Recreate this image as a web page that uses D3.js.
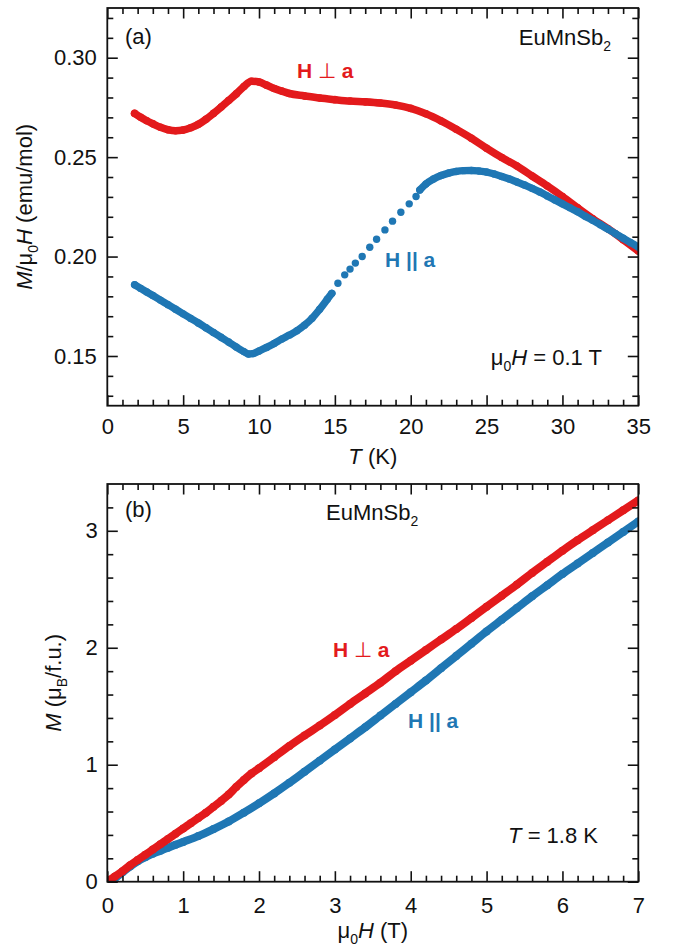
<!DOCTYPE html>
<html>
<head>
<meta charset="utf-8">
<script src="https://cdn.jsdelivr.net/npm/d3@7"></script>
<style>
  body { margin: 0; background: #fff; }
  svg text { font-family: "Liberation Sans", Arial, Helvetica, sans-serif; }
</style>
</head>
<body>
<svg id="chart" width="673" height="948"></svg>
<script>
// ---------- (a) susceptibility vs temperature, mu0H = 0.1 T ----------
const tempPerp = [1.8,2.2,2.6,3.0,3.5,4.0,4.5,5.0,5.5,6.0,6.5,7.0,7.5,8.0,8.5,9.0,9.5,10.0,10.5,11.0,11.5,12.0,13.0,14.0,15.0,16.0,17.0,18.0,19.0,20.0,21.0,22.0,23.0,24.0,25.0,26.0,27.0,28.0,29.0,30.0,31.0,32.0,33.0,34.0,35.0];
const chiPerp  = [0.2720,0.2700,0.2683,0.2668,0.2650,0.2638,0.2633,0.2636,0.2648,0.2665,0.2690,0.2720,0.2752,0.2785,0.2818,0.2855,0.2882,0.2878,0.2862,0.2845,0.2832,0.2820,0.2808,0.2797,0.2789,0.2782,0.2778,0.2772,0.2762,0.2745,0.2718,0.2682,0.2640,0.2595,0.2545,0.2498,0.2455,0.2405,0.2355,0.2302,0.2245,0.2190,0.2140,0.2085,0.2028];

// H || a : low-T branch, sparse sweep through the transition, high-T branch
const tempParLow = [1.8,2.2,2.6,3.0,3.5,4.0,4.5,5.0,5.5,6.0,6.5,7.0,7.5,8.0,8.5,9.0,9.3,9.6,10.0,10.5,11.0,11.5,12.0,12.5,13.0,13.5,14.0,14.5,14.8];
const chiParLow  = [0.1858,0.1840,0.1822,0.1804,0.1781,0.1758,0.1735,0.1712,0.1689,0.1666,0.1642,0.1618,0.1594,0.1570,0.1545,0.1522,0.1510,0.1512,0.1525,0.1543,0.1563,0.1585,0.1605,0.1627,0.1655,0.1690,0.1735,0.1785,0.1815];
const tempParMid = [15.2,15.65,16.0,16.35,16.8,17.3,17.75,18.3,18.8,19.35,19.9,20.35];
const chiParMid  = [0.1866,0.1908,0.1937,0.1967,0.2000,0.2047,0.2087,0.2134,0.2178,0.2223,0.2265,0.2302];
const tempParHigh = [20.6,21.0,21.5,22.0,22.5,23.0,23.5,24.0,24.5,25.0,25.5,26.0,26.5,27.0,27.5,28.0,28.5,29.0,29.5,30.0,30.5,31.0,31.5,32.0,32.5,33.0,33.5,34.0,34.5,35.0];
const chiParHigh  = [0.2335,0.2365,0.2390,0.2408,0.2420,0.2428,0.2432,0.2433,0.2430,0.2425,0.2415,0.2403,0.2390,0.2375,0.2360,0.2343,0.2325,0.2305,0.2285,0.2265,0.2245,0.2225,0.2203,0.2182,0.2160,0.2138,0.2115,0.2092,0.2070,0.2048];

// ---------- (b) magnetization vs field, T = 1.8 K ----------
const fieldPerp = [0,0.1,0.2,0.3,0.4,0.5,0.6,0.7,0.8,0.9,1.0,1.1,1.2,1.3,1.4,1.5,1.6,1.7,1.8,1.9,2.0,2.2,2.4,2.6,2.8,3.0,3.2,3.4,3.6,3.8,4.0,4.2,4.4,4.6,4.8,5.0,5.2,5.4,5.6,5.8,6.0,6.2,6.4,6.6,6.8,7.0];
const momPerp   = [0.0,0.045,0.09,0.14,0.185,0.23,0.275,0.32,0.365,0.41,0.455,0.50,0.545,0.59,0.64,0.69,0.745,0.81,0.87,0.925,0.97,1.065,1.16,1.25,1.335,1.425,1.52,1.61,1.70,1.80,1.89,1.98,2.07,2.16,2.255,2.35,2.445,2.54,2.64,2.735,2.83,2.92,3.005,3.09,3.175,3.26];
const fieldPar = [0,0.1,0.2,0.3,0.4,0.5,0.6,0.7,0.8,0.9,1.0,1.2,1.4,1.6,1.8,2.0,2.2,2.4,2.6,2.8,3.0,3.2,3.4,3.6,3.8,4.0,4.2,4.4,4.6,4.8,5.0,5.2,5.4,5.6,5.8,6.0,6.2,6.4,6.6,6.8,7.0];
const momPar   = [0.0,0.03,0.08,0.13,0.175,0.21,0.24,0.265,0.29,0.315,0.34,0.39,0.45,0.515,0.59,0.67,0.755,0.845,0.94,1.035,1.13,1.225,1.32,1.42,1.52,1.62,1.72,1.825,1.93,2.035,2.14,2.24,2.34,2.44,2.535,2.63,2.72,2.81,2.90,2.99,3.08];

// ---------- tick values ----------
const tempMajor = [0,5,10,15,20,25,30,35];
const tempMinor = [1,2,3,4,6,7,8,9,11,12,13,14,16,17,18,19,21,22,23,24,26,27,28,29,31,32,33,34];
const chiMajor  = [0.15,0.20,0.25,0.30];
const chiMinor  = [0.13,0.14,0.16,0.17,0.18,0.19,0.21,0.22,0.23,0.24,0.26,0.27,0.28,0.29,0.31,0.32];
const fieldMajor = [0,1,2,3,4,5,6,7];
const fieldMinor = [0.2,0.4,0.6,0.8,1.2,1.4,1.6,1.8,2.2,2.4,2.6,2.8,3.2,3.4,3.6,3.8,4.2,4.4,4.6,4.8,5.2,5.4,5.6,5.8,6.2,6.4,6.6,6.8];
const momMajor  = [0,1,2,3];
const momMinor  = [0.2,0.4,0.6,0.8,1.2,1.4,1.6,1.8,2.2,2.4,2.6,2.8,3.2];

const RED = "#e31a1c";
const BLUE = "#1f77b4";
const FONT = 22;

const svg = d3.select("#chart");
const plotLeft = 107.3, plotW = 531, plotH = 397.7;

function zip(xs, ys) { return xs.map((v, i) => ({ x: v, y: ys[i] })); }

// Inward ticks on all four sides, major longer than minor, boxed frame.
function drawFrame(g, x, y, opt) {
  const major = 10.5, minor = 6;
  const style = sel => {
    sel.select(".domain").remove();
    sel.selectAll(".tick line").attr("stroke", "#111").attr("stroke-width", 1.6);
    sel.selectAll("text").attr("font-size", FONT).attr("fill", "#111")
      .attr("font-family", "Liberation Sans, Arial, sans-serif");
    sel.attr("font-family", null).attr("font-size", null);
  };
  const H = plotH, W = plotW;
  g.append("g").attr("transform", `translate(0,${H})`)
    .call(d3.axisBottom(x).tickValues(opt.xMajor).tickSize(-major).tickPadding(opt.xPad).tickFormat(opt.xFmt)).call(style);
  g.append("g").attr("transform", `translate(0,${H})`)
    .call(d3.axisBottom(x).tickValues(opt.xMinor).tickSize(-minor).tickFormat("")).call(style);
  g.append("g").call(d3.axisTop(x).tickValues(opt.xMajor).tickSize(-major).tickFormat("")).call(style);
  g.append("g").call(d3.axisTop(x).tickValues(opt.xMinor).tickSize(-minor).tickFormat("")).call(style);
  g.append("g")
    .call(d3.axisLeft(y).tickValues(opt.yMajor).tickSize(-major).tickPadding(opt.yPad).tickFormat(opt.yFmt)).call(style);
  g.append("g").call(d3.axisLeft(y).tickValues(opt.yMinor).tickSize(-minor).tickFormat("")).call(style);
  g.append("g").attr("transform", `translate(${W},0)`)
    .call(d3.axisRight(y).tickValues(opt.yMajor).tickSize(-major).tickFormat("")).call(style);
  g.append("g").attr("transform", `translate(${W},0)`)
    .call(d3.axisRight(y).tickValues(opt.yMinor).tickSize(-minor).tickFormat("")).call(style);
  g.append("rect").attr("width", W).attr("height", H)
    .attr("fill", "none").attr("stroke", "#111").attr("stroke-width", 1.8);
}

// Dense sweep: thick round-capped trace with a marker at each point.
function drawTrace(g, x, y, pts, color, r) {
  const line = d3.line().x(d => x(d.x)).y(d => y(d.y)).curve(d3.curveMonotoneX);
  g.append("path").datum(pts).attr("d", line)
    .attr("fill", "none").attr("stroke", color).attr("stroke-width", 2 * r)
    .attr("stroke-linecap", "round").attr("stroke-linejoin", "round");
  drawDots(g, x, y, pts, color, r);
}
function drawDots(g, x, y, pts, color, r) {
  g.append("g").selectAll("circle").data(pts).join("circle")
    .attr("cx", d => x(d.x)).attr("cy", d => y(d.y)).attr("r", r).attr("fill", color);
}

function addText(parent, x, y, parts, opts = {}) {
  const t = parent.append("text").attr("x", x).attr("y", y)
    .attr("font-size", opts.size || FONT).attr("fill", opts.fill || "#111")
    .attr("text-anchor", opts.anchor || "start");
  if (opts.weight) t.attr("font-weight", opts.weight);
  if (opts.transform) t.attr("transform", opts.transform);
  parts.forEach(p => {
    const s = t.append("tspan").text(p.t);
    if (p.i) s.attr("font-style", "italic");
    if (p.n) s.attr("font-weight", "normal");
    if (p.sub) s.attr("font-size", 14).attr("dy", 6);
    if (p.up) s.attr("dy", -6);
  });
  return t;
}

// ================= panel (a) =================
const topA = 8;
const gA = svg.append("g").attr("transform", `translate(${plotLeft},${topA})`);
const xA = d3.scaleLinear().domain([0, 35]).range([0, plotW]);
const yA = d3.scaleLinear().domain([0.125, 0.325]).range([plotH, 0]);

const clipA = gA.append("clipPath").attr("id", "clipA");
clipA.append("rect").attr("width", plotW).attr("height", plotH);
const dataA = gA.append("g").attr("clip-path", "url(#clipA)");
drawTrace(dataA, xA, yA, zip(tempPerp, chiPerp), RED, 3.8);
drawTrace(dataA, xA, yA, zip(tempParLow, chiParLow), BLUE, 3.7);
drawDots(dataA, xA, yA, zip(tempParMid, chiParMid), BLUE, 3.7);
drawTrace(dataA, xA, yA, zip(tempParHigh, chiParHigh), BLUE, 3.7);

drawFrame(gA, xA, yA, {
  xMajor: tempMajor, xMinor: tempMinor, yMajor: chiMajor, yMinor: chiMinor,
  xFmt: d3.format("d"), yFmt: d3.format(".2f"), xPad: 13, yPad: 10.5
});

addText(svg, 125, 44, [{ t: "(a)" }]);
addText(svg, 611, 45, [{ t: "EuMnSb" }, { t: "2", sub: true }], { anchor: "end" });
addText(svg, 297, 78, [{ t: "H " }, { t: "⊥", n: true }, { t: " a" }], { fill: RED, weight: "bold", size: 21 });
addText(svg, 385, 266.5, [{ t: "H || a" }], { fill: BLUE, weight: "bold", size: 21 });
addText(svg, 602, 365, [{ t: "μ" }, { t: "0", sub: true }, { t: "H", i: true, up: true }, { t: " = 0.1 T" }], { anchor: "end" });
addText(svg, plotLeft + plotW / 2, 464, [{ t: "T", i: true }, { t: " (K)" }], { anchor: "middle" });
addText(svg, 0, 0, [{ t: "M", i: true }, { t: "/μ" }, { t: "0", sub: true }, { t: "H", i: true, up: true }, { t: " (emu/mol)" }],
  { anchor: "middle", transform: `translate(32,${topA + plotH / 2}) rotate(-90)` });

// ================= panel (b) =================
const topB = 484;
const gB = svg.append("g").attr("transform", `translate(${plotLeft},${topB})`);
const xB = d3.scaleLinear().domain([0, 7]).range([0, plotW]);
const yB = d3.scaleLinear().domain([0, 3.4]).range([plotH, 0]);

const clipB = gB.append("clipPath").attr("id", "clipB");
clipB.append("rect").attr("width", plotW).attr("height", plotH);
const dataB = gB.append("g").attr("clip-path", "url(#clipB)");
drawTrace(dataB, xB, yB, zip(fieldPar, momPar), BLUE, 4);
drawTrace(dataB, xB, yB, zip(fieldPerp, momPerp), RED, 4);

drawFrame(gB, xB, yB, {
  xMajor: fieldMajor, xMinor: fieldMinor, yMajor: momMajor, yMinor: momMinor,
  xFmt: d3.format("d"), yFmt: d3.format("d"), xPad: 16, yPad: 9.5
});

addText(svg, 125, 517, [{ t: "(b)" }]);
addText(svg, 326, 520, [{ t: "EuMnSb" }, { t: "2", sub: true }]);
addText(svg, 333, 656.5, [{ t: "H " }, { t: "⊥", n: true }, { t: " a" }], { fill: RED, weight: "bold", size: 21 });
addText(svg, 408, 728, [{ t: "H || a" }], { fill: BLUE, weight: "bold", size: 21 });
addText(svg, 598, 843, [{ t: "T", i: true }, { t: " = 1.8 K" }], { anchor: "end" });
addText(svg, plotLeft + plotW / 2, 938, [{ t: "μ" }, { t: "0", sub: true }, { t: "H", i: true, up: true }, { t: " (T)" }], { anchor: "middle" });
addText(svg, 0, 0, [{ t: "M", i: true }, { t: " (μ" }, { t: "B", sub: true }, { t: "/f.u.)", up: true }],
  { anchor: "middle", transform: `translate(61,${topB + plotH / 2}) rotate(-90)` });
</script>
</body>
</html>
